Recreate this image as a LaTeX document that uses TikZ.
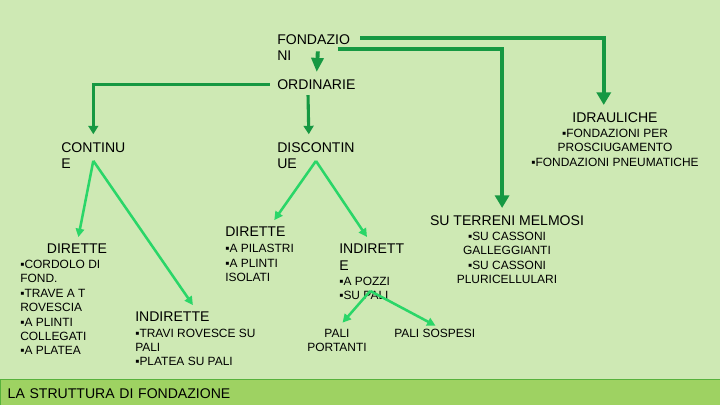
\documentclass[tikz,border=0pt]{standalone}
\usepackage{fontspec}
\setmainfont{Liberation Sans}
\usepackage{xcolor}
\usetikzlibrary{arrows.meta, positioning}
\definecolor{bgGreen}{RGB}{206,233,180}
\definecolor{barFill}{RGB}{158,210,98}
\definecolor{barLine}{RGB}{88,178,60}
\definecolor{darkArrow}{RGB}{22,152,66}
\definecolor{lightArrow}{RGB}{42,214,104}

\begin{document}
\begin{tikzpicture}[x=0.025cm, y=-0.025cm,
    head/.style={inner sep=0pt, font=\fontsize{10}{12}\selectfont, align=left, text=black},
    items/.style={inner sep=0pt, font=\fontsize{8.5}{10.2}\selectfont, align=left, text=black},
    bigarrow/.style={-{Triangle[width=10pt, length=9pt]}, line width=2.8pt, darkArrow},
    midarrow/.style={-{Triangle[width=7pt, length=6pt]}, line width=2.2pt, darkArrow},
    thinarrow/.style={-{Triangle[width=6pt, length=6pt]}, line width=1.8pt, lightArrow},
]
\useasboundingbox (0,0) rectangle (720,405);
\fill[bgGreen] (0,0) rectangle (720,405);

\node[head, anchor=north west] (fond) at (277,34) {FONDAZIO\\NI};
\node[head, anchor=north west] (ord) at (277,79) {ORDINARIE};
\node[head, anchor=north west] (cont) at (61,142) {CONTINU\\E};
\node[head, anchor=north west] (disc) at (277,142) {DISCONTIN\\UE};

\node[head, anchor=north] (idr) at (615,112) {IDRAULICHE};
\node[items, align=center, below=4.5pt of idr] (idrl) {▪FONDAZIONI PER\\PROSCIUGAMENTO\\▪FONDAZIONI PNEUMATICHE};
\node[head, anchor=north] (mel) at (507,215) {SU TERRENI MELMOSI};
\node[items, align=center, below=4.5pt of mel] (mell) {▪SU CASSONI\\GALLEGGIANTI\\▪SU CASSONI\\PLURICELLULARI};

\node[head, anchor=north] (dirl) at (77,244) {DIRETTE};
\node[items, anchor=north west] (dirll) at (20,260) {▪CORDOLO DI\\FOND.\\▪TRAVE A T\\ROVESCIA\\▪A PLINTI\\COLLEGATI\\▪A PLATEA};
\node[head, anchor=north west] (indl) at (135,312) {INDIRETTE};
\node[items, below=4.5pt of indl.south west, anchor=north west] (indll) {▪TRAVI ROVESCE SU\\PALI\\▪PLATEA SU PALI};

\node[head, anchor=north west] (dirm) at (225,227) {DIRETTE};
\node[items, below=5pt of dirm.south west, anchor=north west] (dirml) {▪A PILASTRI\\▪A PLINTI\\ISOLATI};
\node[head, anchor=north west] (indm) at (339,244) {INDIRETT\\E};
\node[items, below=4pt of indm.south west, anchor=north west] (indml) {▪A POZZI\\▪SU PALI};
\node[items, align=center, anchor=north] (pport) at (337,329) {PALI\\PORTANTI};
\node[items, anchor=north west] (psosp) at (394,329) {PALI SOSPESI};

\node[head, fill=barFill, draw=barLine, line width=1pt, anchor=north west, text width=17.65cm, inner xsep=0.175cm, minimum height=0.7cm] (title) at (0,379) {LA STRUTTURA DI FONDAZIONE};

\draw[bigarrow, -{Triangle[width=8.5pt, length=10pt]}, shorten >=5pt] ([xshift=3pt, yshift=7pt]fond.south) -- (ord.north);
\draw[bigarrow, shorten >=5pt] ([xshift=7pt, yshift=-3pt]fond.north east) -| ([xshift=-8pt]idr.north);
\draw[bigarrow, shorten >=5pt] ([xshift=-9pt, yshift=-10.5pt]fond.north east) -| ([xshift=-3.5pt]mel.north);
\draw[midarrow, shorten <=5pt, shorten >=5.5pt] (ord.west) -| (cont.north);
\draw[midarrow, shorten <=4pt, shorten >=5.5pt] ([xshift=-6pt]ord.south) -- ([xshift=-5pt]disc.north);

\draw[thinarrow, shorten >=5pt] ([yshift=6pt]cont.south) -- (dirl.north);
\draw[thinarrow, shorten >=6pt] ([yshift=6pt]cont.south) -- ([xshift=18pt]indl.north);
\draw[thinarrow, shorten >=6pt] ([yshift=6pt]disc.south) -- ([xshift=10pt]dirm.north);
\draw[thinarrow, shorten >=6pt] ([yshift=6pt]disc.south) -- (indm.north);
\draw[thinarrow, shorten >=6pt] ([xshift=4pt, yshift=6.5pt]indml.south) -- (pport.north);
\draw[thinarrow, shorten >=5pt] ([xshift=4pt, yshift=6.5pt]indml.south) -- ([xshift=5pt]psosp.north);
\end{tikzpicture}
\end{document}
